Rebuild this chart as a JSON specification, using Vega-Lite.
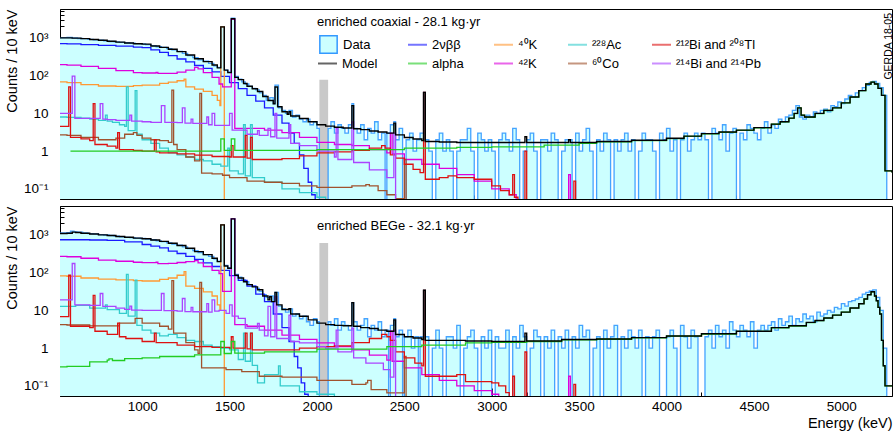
{
"$schema": "https://vega.github.io/schema/vega-lite/v6.json",
"padding": {"left": 3, "top": 8, "right": 3, "bottom": 2},
"config": {"font": "Liberation Sans", "view": {"stroke": "black", "strokeWidth": 1},
 "axis": {"domainColor": "black", "tickColor": "black", "labelColor": "black", "titleColor": "black", "grid": false, "zindex": 1, "titleFontWeight": "normal", "labelFontSize": 13.5, "titleFontSize": 14.5}},
"datasets": {
"coax": [
{"s":"M","e":530,"v":1000},{"s":"M","e":600,"v":980},{"s":"M","e":650,"v":950},{"s":"M","e":700,"v":900},{"s":"M","e":750,"v":860},{"s":"M","e":800,"v":810},{"s":"M","e":850,"v":770},{"s":"M","e":900,"v":730},{"s":"M","e":950,"v":700},{"s":"M","e":1000,"v":680},{"s":"M","e":1050,"v":610},{"s":"M","e":1100,"v":560},{"s":"M","e":1150,"v":500},{"s":"M","e":1200,"v":430},{"s":"M","e":1250,"v":350},{"s":"M","e":1300,"v":280},{"s":"M","e":1350,"v":235},{"s":"M","e":1400,"v":190},{"s":"M","e":1430,"v":160},{"s":"M","e":1450,"v":1950},{"s":"M","e":1470,"v":140},{"s":"M","e":1490,"v":120},{"s":"M","e":1510,"v":3200},{"s":"M","e":1530,"v":90},{"s":"M","e":1550,"v":78},{"s":"M","e":1580,"v":62},{"s":"M","e":1600,"v":52},{"s":"M","e":1630,"v":45},{"s":"M","e":1660,"v":38},{"s":"M","e":1690,"v":28},{"s":"M","e":1720,"v":22},{"s":"M","e":1750,"v":18},{"s":"M","e":1760,"v":50},{"s":"M","e":1775,"v":15},{"s":"M","e":1800,"v":11},{"s":"M","e":1830,"v":9.5},{"s":"M","e":1840,"v":11},{"s":"M","e":1850,"v":8.5},{"s":"M","e":1900,"v":7.3},{"s":"M","e":1950,"v":6.0},{"s":"M","e":2000,"v":5.0},{"s":"M","e":2050,"v":4.6},{"s":"M","e":2100,"v":4.3},{"s":"M","e":2150,"v":4.1},{"s":"M","e":2200,"v":16},{"s":"M","e":2210,"v":3.9},{"s":"M","e":2250,"v":3.7},{"s":"M","e":2300,"v":3.4},{"s":"M","e":2350,"v":3.2},{"s":"M","e":2400,"v":3.0},{"s":"M","e":2440,"v":5.5},{"s":"M","e":2450,"v":2.7},{"s":"M","e":2500,"v":2.3},{"s":"M","e":2550,"v":2.1},{"s":"M","e":2600,"v":1.9},{"s":"M","e":2610,"v":36},{"s":"M","e":2620,"v":1.8},{"s":"M","e":2700,"v":1.75},{"s":"M","e":2800,"v":1.7},{"s":"M","e":3190,"v":2.4},{"s":"M","e":3200,"v":1.7},{"s":"M","e":3440,"v":2.0},{"s":"M","e":3450,"v":1.7},{"s":"M","e":3600,"v":1.8},{"s":"M","e":3800,"v":1.95},{"s":"M","e":4000,"v":2.2},{"s":"M","e":4100,"v":2.5},{"s":"M","e":4200,"v":2.9},{"s":"M","e":4300,"v":3.2},{"s":"M","e":4400,"v":3.6},{"s":"M","e":4500,"v":4.2},{"s":"M","e":4600,"v":5.2},{"s":"M","e":4650,"v":6},{"s":"M","e":4700,"v":7.5},{"s":"M","e":4730,"v":10},{"s":"M","e":4750,"v":14},{"s":"M","e":4770,"v":9},{"s":"M","e":4790,"v":8},{"s":"M","e":4850,"v":10},{"s":"M","e":4900,"v":12},{"s":"M","e":4950,"v":14},{"s":"M","e":5000,"v":19},{"s":"M","e":5050,"v":27},{"s":"M","e":5100,"v":40},{"s":"M","e":5140,"v":60},{"s":"M","e":5170,"v":67},{"s":"M","e":5190,"v":60},{"s":"M","e":5210,"v":46},{"s":"M","e":5230,"v":30},{"s":"M","e":5250,"v":0.3},{"s":"M","e":5290,"v":0.27},
{"s":"D","e":530,"v":1010},{"s":"D","e":570,"v":1020},{"s":"D","e":600,"v":990},{"s":"D","e":630,"v":960},{"s":"D","e":660,"v":950},{"s":"D","e":690,"v":910},{"s":"D","e":720,"v":880},{"s":"D","e":750,"v":870},{"s":"D","e":780,"v":830},{"s":"D","e":810,"v":800},{"s":"D","e":840,"v":780},{"s":"D","e":870,"v":760},{"s":"D","e":900,"v":740},{"s":"D","e":930,"v":720},{"s":"D","e":960,"v":700},{"s":"D","e":990,"v":690},{"s":"D","e":1020,"v":660},{"s":"D","e":1050,"v":620},{"s":"D","e":1080,"v":580},{"s":"D","e":1110,"v":560},{"s":"D","e":1140,"v":520},{"s":"D","e":1170,"v":480},{"s":"D","e":1200,"v":440},{"s":"D","e":1230,"v":390},{"s":"D","e":1260,"v":340},{"s":"D","e":1290,"v":300},{"s":"D","e":1320,"v":260},{"s":"D","e":1350,"v":240},{"s":"D","e":1380,"v":210},{"s":"D","e":1410,"v":180},{"s":"D","e":1430,"v":165},{"s":"D","e":1450,"v":1950},{"s":"D","e":1470,"v":140},{"s":"D","e":1490,"v":125},{"s":"D","e":1510,"v":3300},{"s":"D","e":1530,"v":95},{"s":"D","e":1550,"v":80},{"s":"D","e":1570,"v":68},{"s":"D","e":1590,"v":60},{"s":"D","e":1610,"v":52},{"s":"D","e":1630,"v":46},{"s":"D","e":1650,"v":42},{"s":"D","e":1670,"v":35},{"s":"D","e":1690,"v":30},{"s":"D","e":1710,"v":22},{"s":"D","e":1730,"v":26},{"s":"D","e":1750,"v":18},{"s":"D","e":1760,"v":56},{"s":"D","e":1780,"v":14},{"s":"D","e":1800,"v":12},{"s":"D","e":1820,"v":10},{"s":"D","e":1840,"v":12},{"s":"D","e":1860,"v":8},{"s":"D","e":1880,"v":9},{"s":"D","e":1900,"v":7},{"s":"D","e":1920,"v":6},{"s":"D","e":1940,"v":7},{"s":"D","e":1960,"v":5},{"s":"D","e":1980,"v":6},{"s":"D","e":2000,"v":4},{"s":"D","e":2014,"v":0.001},{"s":"D","e":2064,"v":4},{"s":"D","e":2080,"v":6},{"s":"D","e":2100,"v":3},{"s":"D","e":2120,"v":5},{"s":"D","e":2140,"v":4},{"s":"D","e":2160,"v":3},{"s":"D","e":2180,"v":5},{"s":"D","e":2200,"v":18},{"s":"D","e":2210,"v":4},{"s":"D","e":2230,"v":3},{"s":"D","e":2250,"v":5},{"s":"D","e":2270,"v":2},{"s":"D","e":2290,"v":4},{"s":"D","e":2310,"v":3},{"s":"D","e":2330,"v":6},{"s":"D","e":2350,"v":2},{"s":"D","e":2370,"v":3},{"s":"D","e":2390,"v":0.001},{"s":"D","e":2400,"v":3},{"s":"D","e":2420,"v":5},{"s":"D","e":2440,"v":6},{"s":"D","e":2450,"v":2},{"s":"D","e":2470,"v":4},{"s":"D","e":2490,"v":0.001},{"s":"D","e":2510,"v":2},{"s":"D","e":2530,"v":3},{"s":"D","e":2550,"v":1},{"s":"D","e":2570,"v":2},{"s":"D","e":2590,"v":3},{"s":"D","e":2610,"v":36},
{"s":"D","e":2620,"v":2},{"s":"D","e":2640,"v":1},{"s":"D","e":2660,"v":0.001},{"s":"D","e":2680,"v":2},{"s":"D","e":2700,"v":3},{"s":"D","e":2720,"v":1},{"s":"D","e":2740,"v":2},{"s":"D","e":2760,"v":1},{"s":"D","e":2780,"v":0.001},{"s":"D","e":2800,"v":1},{"s":"D","e":2820,"v":2},{"s":"D","e":2840,"v":2},{"s":"D","e":2860,"v":4},{"s":"D","e":2880,"v":1},{"s":"D","e":2900,"v":0.001},{"s":"D","e":2920,"v":3},{"s":"D","e":2940,"v":2},{"s":"D","e":2960,"v":1},{"s":"D","e":2980,"v":2},
{"s":"D","e":3000,"v":1},{"s":"D","e":3020,"v":0.001},{"s":"D","e":3040,"v":2},{"s":"D","e":3060,"v":3},{"s":"D","e":3080,"v":2},{"s":"D","e":3100,"v":1},{"s":"D","e":3120,"v":4},{"s":"D","e":3140,"v":2},{"s":"D","e":3160,"v":0.001},{"s":"D","e":3180,"v":1},{"s":"D","e":3200,"v":2},{"s":"D","e":3220,"v":3},{"s":"D","e":3240,"v":1},{"s":"D","e":3260,"v":0.001},{"s":"D","e":3280,"v":2},{"s":"D","e":3300,"v":2},{"s":"D","e":3320,"v":1},{"s":"D","e":3340,"v":3},{"s":"D","e":3360,"v":2},{"s":"D","e":3380,"v":0.001},
{"s":"D","e":3400,"v":1},{"s":"D","e":3420,"v":2},{"s":"D","e":3440,"v":2},{"s":"D","e":3460,"v":0.001},{"s":"D","e":3480,"v":3},{"s":"D","e":3500,"v":1},{"s":"D","e":3520,"v":2},{"s":"D","e":3540,"v":4},{"s":"D","e":3560,"v":1},{"s":"D","e":3580,"v":0.001},{"s":"D","e":3600,"v":2},{"s":"D","e":3620,"v":1},{"s":"D","e":3640,"v":3},{"s":"D","e":3660,"v":2},{"s":"D","e":3680,"v":0.001},{"s":"D","e":3700,"v":2},{"s":"D","e":3720,"v":1},{"s":"D","e":3740,"v":2},{"s":"D","e":3760,"v":3},{"s":"D","e":3780,"v":1},
{"s":"D","e":3800,"v":2},{"s":"D","e":3820,"v":0.001},{"s":"D","e":3840,"v":1},{"s":"D","e":3860,"v":3},{"s":"D","e":3880,"v":2},{"s":"D","e":3900,"v":2},{"s":"D","e":3920,"v":1},{"s":"D","e":3940,"v":0.001},{"s":"D","e":3960,"v":3},{"s":"D","e":3980,"v":2},{"s":"D","e":4000,"v":4},{"s":"D","e":4020,"v":1},{"s":"D","e":4040,"v":2},{"s":"D","e":4060,"v":0.001},{"s":"D","e":4080,"v":2},{"s":"D","e":4100,"v":3},{"s":"D","e":4120,"v":1},{"s":"D","e":4140,"v":2},{"s":"D","e":4160,"v":3},{"s":"D","e":4180,"v":2},
{"s":"D","e":4200,"v":3},{"s":"D","e":4220,"v":2},{"s":"D","e":4240,"v":0.001},{"s":"D","e":4260,"v":4},{"s":"D","e":4280,"v":3},{"s":"D","e":4300,"v":2},{"s":"D","e":4320,"v":5},{"s":"D","e":4340,"v":1},{"s":"D","e":4360,"v":3},{"s":"D","e":4380,"v":4},{"s":"D","e":4400,"v":0.001},{"s":"D","e":4420,"v":3},{"s":"D","e":4440,"v":2},{"s":"D","e":4460,"v":5},{"s":"D","e":4480,"v":4},{"s":"D","e":4500,"v":3},{"s":"D","e":4520,"v":2},{"s":"D","e":4540,"v":4},{"s":"D","e":4560,"v":6},{"s":"D","e":4580,"v":3},
{"s":"D","e":4600,"v":5},{"s":"D","e":4620,"v":4},{"s":"D","e":4640,"v":7},{"s":"D","e":4660,"v":6},{"s":"D","e":4680,"v":8},{"s":"D","e":4700,"v":9},{"s":"D","e":4720,"v":12},{"s":"D","e":4740,"v":16},{"s":"D","e":4760,"v":8},{"s":"D","e":4780,"v":7},{"s":"D","e":4800,"v":9},{"s":"D","e":4820,"v":8},{"s":"D","e":4840,"v":11},{"s":"D","e":4860,"v":10},{"s":"D","e":4880,"v":12},
{"s":"D","e":4900,"v":13},{"s":"D","e":4920,"v":11},{"s":"D","e":4940,"v":16},{"s":"D","e":4960,"v":15},{"s":"D","e":4980,"v":20},{"s":"D","e":5000,"v":18},{"s":"D","e":5020,"v":24},{"s":"D","e":5040,"v":30},{"s":"D","e":5060,"v":27},{"s":"D","e":5080,"v":35},
{"s":"D","e":5100,"v":40},{"s":"D","e":5120,"v":48},{"s":"D","e":5140,"v":55},{"s":"D","e":5160,"v":66},{"s":"D","e":5180,"v":70},{"s":"D","e":5200,"v":62},{"s":"D","e":5220,"v":48},{"s":"D","e":5240,"v":30},{"s":"D","e":5260,"v":0.001},{"s":"D","e":5290,"v":0.001},
{"s":"B","e":530,"v":700},{"s":"B","e":570,"v":690},{"s":"B","e":650,"v":660},{"s":"B","e":750,"v":630},{"s":"B","e":850,"v":600},{"s":"B","e":950,"v":570},{"s":"B","e":1000,"v":550},{"s":"B","e":1050,"v":480},{"s":"B","e":1100,"v":410},{"s":"B","e":1150,"v":340},{"s":"B","e":1200,"v":275},{"s":"B","e":1250,"v":230},{"s":"B","e":1300,"v":185},{"s":"B","e":1350,"v":155},{"s":"B","e":1400,"v":125},{"s":"B","e":1450,"v":95},{"s":"B","e":1500,"v":65},{"s":"B","e":1550,"v":45},{"s":"B","e":1600,"v":30},{"s":"B","e":1650,"v":21},{"s":"B","e":1700,"v":14},{"s":"B","e":1750,"v":9},{"s":"B","e":1800,"v":5.5},{"s":"B","e":1840,"v":3},{"s":"B","e":1870,"v":1.6},{"s":"B","e":1900,"v":0.8},{"s":"B","e":1925,"v":0.35},{"s":"B","e":1950,"v":0.15},{"s":"B","e":1970,"v":0.07},{"s":"B","e":1990,"v":0.001},{"s":"B","e":5290,"v":0.001},
{"s":"K0","e":530,"v":68},{"s":"K0","e":570,"v":65},{"s":"K0","e":650,"v":58},{"s":"K0","e":750,"v":53},{"s":"K0","e":850,"v":52},{"s":"K0","e":950,"v":54},{"s":"K0","e":1000,"v":56},{"s":"K0","e":1100,"v":62},{"s":"K0","e":1150,"v":67},{"s":"K0","e":1200,"v":73},{"s":"K0","e":1240,"v":80},{"s":"K0","e":1250,"v":50},{"s":"K0","e":1300,"v":44},{"s":"K0","e":1350,"v":38},{"s":"K0","e":1400,"v":30},{"s":"K0","e":1430,"v":22},{"s":"K0","e":1445,"v":16},{"s":"K0","e":1450,"v":1950},{"s":"K0","e":1470,"v":0.001},{"s":"K0","e":5290,"v":0.001},
{"s":"K2","e":530,"v":195},{"s":"K2","e":570,"v":190},{"s":"K2","e":650,"v":175},{"s":"K2","e":750,"v":155},{"s":"K2","e":850,"v":135},{"s":"K2","e":950,"v":120},{"s":"K2","e":1000,"v":117},{"s":"K2","e":1080,"v":121},{"s":"K2","e":1090,"v":114},{"s":"K2","e":1150,"v":115},{"s":"K2","e":1200,"v":124},{"s":"K2","e":1250,"v":140},{"s":"K2","e":1300,"v":165},{"s":"K2","e":1320,"v":150},{"s":"K2","e":1350,"v":120},{"s":"K2","e":1400,"v":90},{"s":"K2","e":1440,"v":60},{"s":"K2","e":1460,"v":50},{"s":"K2","e":1510,"v":3100},{"s":"K2","e":1530,"v":4.0},{"s":"K2","e":1600,"v":4.0},{"s":"K2","e":1700,"v":3.6},{"s":"K2","e":1800,"v":3.1},{"s":"K2","e":1900,"v":2.3},{"s":"K2","e":2000,"v":1.7},{"s":"K2","e":2100,"v":1.5},{"s":"K2","e":2200,"v":1.4},{"s":"K2","e":2300,"v":1.1},{"s":"K2","e":2400,"v":0.9},{"s":"K2","e":2420,"v":3},{"s":"K2","e":2430,"v":0.85},{"s":"K2","e":2500,"v":0.6},{"s":"K2","e":2600,"v":0.45},{"s":"K2","e":2700,"v":0.35},{"s":"K2","e":2800,"v":0.24},{"s":"K2","e":2900,"v":0.16},{"s":"K2","e":3000,"v":0.1},{"s":"K2","e":3100,"v":0.07},{"s":"K2","e":3140,"v":0.001},{"s":"K2","e":3440,"v":0.24},{"s":"K2","e":3450,"v":0.001},{"s":"K2","e":5290,"v":0.001},
{"s":"A","e":530,"v":8},{"s":"A","e":570,"v":7.8},{"s":"A","e":650,"v":7.5},{"s":"A","e":700,"v":7},{"s":"A","e":750,"v":6.5},{"s":"A","e":790,"v":9},{"s":"A","e":800,"v":6.2},{"s":"A","e":830,"v":5.8},{"s":"A","e":870,"v":5},{"s":"A","e":900,"v":4.5},{"s":"A","e":910,"v":50},{"s":"A","e":920,"v":3.5},{"s":"A","e":960,"v":40},{"s":"A","e":970,"v":2.8},{"s":"A","e":1000,"v":2.0},{"s":"A","e":1050,"v":1.6},{"s":"A","e":1100,"v":1.2},{"s":"A","e":1150,"v":0.9},{"s":"A","e":1200,"v":0.8},{"s":"A","e":1250,"v":0.7},{"s":"A","e":1300,"v":0.6},{"s":"A","e":1350,"v":0.55},{"s":"A","e":1400,"v":0.45},{"s":"A","e":1450,"v":0.4},{"s":"A","e":1490,"v":1.2},{"s":"A","e":1500,"v":0.3},{"s":"A","e":1550,"v":0.25},{"s":"A","e":1580,"v":5},{"s":"A","e":1590,"v":0.22},{"s":"A","e":1620,"v":5},{"s":"A","e":1630,"v":0.2},{"s":"A","e":1700,"v":0.15},{"s":"A","e":1800,"v":0.1},{"s":"A","e":1900,"v":0.08},{"s":"A","e":2000,"v":0.06},{"s":"A","e":2050,"v":0.001},{"s":"A","e":5290,"v":0.001},
{"s":"C","e":530,"v":2.7},{"s":"C","e":570,"v":2.6},{"s":"C","e":650,"v":2.3},{"s":"C","e":750,"v":2.0},{"s":"C","e":850,"v":2.2},{"s":"C","e":900,"v":2.8},{"s":"C","e":950,"v":3.1},{"s":"C","e":970,"v":2.6},{"s":"C","e":1000,"v":2.2},{"s":"C","e":1050,"v":2.0},{"s":"C","e":1100,"v":1.9},{"s":"C","e":1150,"v":1.7},{"s":"C","e":1170,"v":41},{"s":"C","e":1180,"v":1.5},{"s":"C","e":1200,"v":1.1},{"s":"C","e":1250,"v":0.7},{"s":"C","e":1300,"v":0.55},{"s":"C","e":1330,"v":34},{"s":"C","e":1340,"v":0.26},{"s":"C","e":1400,"v":0.25},{"s":"C","e":1460,"v":0.23},{"s":"C","e":1500,"v":0.2},{"s":"C","e":1600,"v":0.16},{"s":"C","e":1700,"v":0.15},{"s":"C","e":1800,"v":0.14},{"s":"C","e":1900,"v":0.12},{"s":"C","e":2000,"v":0.11},{"s":"C","e":2200,"v":0.12},{"s":"C","e":2280,"v":0.13},{"s":"C","e":2300,"v":0.12},{"s":"C","e":2350,"v":0.09},{"s":"C","e":2400,"v":0.07},{"s":"C","e":2450,"v":0.055},{"s":"C","e":2500,"v":0.6},{"s":"C","e":2510,"v":0.001},{"s":"C","e":5290,"v":0.001},
{"s":"R","e":530,"v":4.5},{"s":"R","e":580,"v":50},{"s":"R","e":590,"v":2.3},{"s":"R","e":650,"v":2.1},{"s":"R","e":700,"v":1.9},{"s":"R","e":720,"v":18},{"s":"R","e":730,"v":1.5},{"s":"R","e":800,"v":1.35},{"s":"R","e":850,"v":1.2},{"s":"R","e":860,"v":3.1},{"s":"R","e":870,"v":1.1},{"s":"R","e":950,"v":1.05},{"s":"R","e":1000,"v":1.0},{"s":"R","e":1070,"v":2.0},{"s":"R","e":1080,"v":0.95},{"s":"R","e":1100,"v":0.9},{"s":"R","e":1200,"v":0.85},{"s":"R","e":1300,"v":0.78},{"s":"R","e":1400,"v":0.72},{"s":"R","e":1500,"v":0.7},{"s":"R","e":1510,"v":1.4},{"s":"R","e":1520,"v":0.7},{"s":"R","e":1590,"v":2.6},{"s":"R","e":1600,"v":0.65},{"s":"R","e":1620,"v":2.3},{"s":"R","e":1630,"v":0.6},{"s":"R","e":1700,"v":0.6},{"s":"R","e":1800,"v":0.63},{"s":"R","e":1900,"v":0.75},{"s":"R","e":2000,"v":0.9},{"s":"R","e":2100,"v":0.95},{"s":"R","e":2200,"v":1.05},{"s":"R","e":2300,"v":1.2},{"s":"R","e":2370,"v":1.4},{"s":"R","e":2390,"v":1.2},{"s":"R","e":2420,"v":0.8},{"s":"R","e":2450,"v":0.65},{"s":"R","e":2500,"v":0.45},{"s":"R","e":2550,"v":0.33},{"s":"R","e":2590,"v":0.27},{"s":"R","e":2610,"v":36},{"s":"R","e":2620,"v":0.18},{"s":"R","e":2700,"v":0.2},{"s":"R","e":2750,"v":0.22},{"s":"R","e":2800,"v":0.2},{"s":"R","e":2900,"v":0.18},{"s":"R","e":3000,"v":0.12},{"s":"R","e":3050,"v":0.09},{"s":"R","e":3100,"v":0.07},{"s":"R","e":3120,"v":0.24},{"s":"R","e":3130,"v":0.06},{"s":"R","e":3150,"v":0.001},{"s":"R","e":3190,"v":1.0},{"s":"R","e":3200,"v":0.001},{"s":"R","e":3470,"v":0.16},{"s":"R","e":3480,"v":0.001},{"s":"R","e":5290,"v":0.001},
{"s":"P","e":530,"v":10},{"s":"P","e":600,"v":97},{"s":"P","e":615,"v":7.4},{"s":"P","e":700,"v":7.4},{"s":"P","e":760,"v":18},{"s":"P","e":775,"v":7},{"s":"P","e":800,"v":6.8},{"s":"P","e":850,"v":6.5},{"s":"P","e":930,"v":9},{"s":"P","e":940,"v":6.2},{"s":"P","e":1000,"v":6.0},{"s":"P","e":1050,"v":5.8},{"s":"P","e":1110,"v":16},{"s":"P","e":1130,"v":5.8},{"s":"P","e":1200,"v":5.7},{"s":"P","e":1230,"v":14},{"s":"P","e":1245,"v":5.5},{"s":"P","e":1280,"v":7},{"s":"P","e":1290,"v":5.4},{"s":"P","e":1370,"v":8},{"s":"P","e":1380,"v":5},{"s":"P","e":1400,"v":10},{"s":"P","e":1415,"v":4.8},{"s":"P","e":1500,"v":10},{"s":"P","e":1515,"v":3.6},{"s":"P","e":1600,"v":2.8},{"s":"P","e":1660,"v":3.5},{"s":"P","e":1670,"v":2.6},{"s":"P","e":1720,"v":4},{"s":"P","e":1735,"v":2.4},{"s":"P","e":1760,"v":10},{"s":"P","e":1770,"v":2.2},{"s":"P","e":1840,"v":5},{"s":"P","e":1850,"v":1.6},{"s":"P","e":1900,"v":1.4},{"s":"P","e":2000,"v":1.0},{"s":"P","e":2100,"v":0.7},{"s":"P","e":2110,"v":4},{"s":"P","e":2120,"v":0.6},{"s":"P","e":2200,"v":5.9},{"s":"P","e":2210,"v":0.5},{"s":"P","e":2300,"v":0.32},{"s":"P","e":2400,"v":0.2},{"s":"P","e":2440,"v":3},{"s":"P","e":2450,"v":0.001},{"s":"P","e":5290,"v":0.001},
{"s":"G","e":590,"v":1.0},{"s":"G","e":1450,"v":2.1},{"s":"G","e":1470,"v":1.05},{"s":"G","e":1510,"v":2.1},{"s":"G","e":1530,"v":1.05},{"s":"G","e":2000,"v":1.1},{"s":"G","e":2500,"v":1.2},{"s":"G","e":2800,"v":1.25},{"s":"G","e":3000,"v":1.3},{"s":"G","e":3300,"v":1.45},{"s":"G","e":3500,"v":1.6},{"s":"G","e":3600,"v":1.75},{"s":"G","e":3800,"v":1.9},{"s":"G","e":4000,"v":2.15},{"s":"G","e":4100,"v":2.45},{"s":"G","e":4200,"v":2.85},{"s":"G","e":4300,"v":3.15},{"s":"G","e":4400,"v":3.55},{"s":"G","e":4500,"v":4.15},{"s":"G","e":4600,"v":5.15},{"s":"G","e":4650,"v":5.95},{"s":"G","e":4700,"v":7.4},{"s":"G","e":4730,"v":9.9},{"s":"G","e":4750,"v":13.9},{"s":"G","e":4770,"v":8.9},{"s":"G","e":4790,"v":7.9},{"s":"G","e":4850,"v":9.9},{"s":"G","e":4900,"v":11.9},{"s":"G","e":4950,"v":13.9},{"s":"G","e":5000,"v":18.9},{"s":"G","e":5050,"v":27},{"s":"G","e":5100,"v":40},{"s":"G","e":5140,"v":60},{"s":"G","e":5170,"v":67},{"s":"G","e":5190,"v":60},{"s":"G","e":5210,"v":46},{"s":"G","e":5230,"v":30},{"s":"G","e":5250,"v":0.3},{"s":"G","e":5290,"v":0.27}
],
"bege": [
{"s":"M","e":530,"v":1080},{"s":"M","e":570,"v":1100},{"s":"M","e":600,"v":1180},{"s":"M","e":620,"v":1150},{"s":"M","e":650,"v":1100},{"s":"M","e":700,"v":1050},{"s":"M","e":750,"v":1000},{"s":"M","e":800,"v":960},{"s":"M","e":850,"v":900},{"s":"M","e":900,"v":860},{"s":"M","e":950,"v":820},{"s":"M","e":1000,"v":790},{"s":"M","e":1050,"v":730},{"s":"M","e":1100,"v":670},{"s":"M","e":1150,"v":600},{"s":"M","e":1200,"v":520},{"s":"M","e":1250,"v":440},{"s":"M","e":1300,"v":360},{"s":"M","e":1350,"v":300},{"s":"M","e":1400,"v":240},{"s":"M","e":1430,"v":195},{"s":"M","e":1450,"v":1830},{"s":"M","e":1470,"v":150},{"s":"M","e":1490,"v":130},{"s":"M","e":1510,"v":2650},{"s":"M","e":1530,"v":85},{"s":"M","e":1550,"v":72},{"s":"M","e":1580,"v":57},{"s":"M","e":1600,"v":48},{"s":"M","e":1630,"v":42},{"s":"M","e":1660,"v":35},{"s":"M","e":1690,"v":24},{"s":"M","e":1720,"v":19},{"s":"M","e":1730,"v":23},{"s":"M","e":1740,"v":17},{"s":"M","e":1760,"v":30},{"s":"M","e":1770,"v":14},{"s":"M","e":1800,"v":10.5},{"s":"M","e":1840,"v":11},{"s":"M","e":1850,"v":8},{"s":"M","e":1900,"v":7},{"s":"M","e":1950,"v":5.6},{"s":"M","e":2000,"v":4.6},{"s":"M","e":2050,"v":4.2},{"s":"M","e":2100,"v":4.0},{"s":"M","e":2150,"v":3.9},{"s":"M","e":2200,"v":16},{"s":"M","e":2210,"v":3.8},{"s":"M","e":2250,"v":3.5},{"s":"M","e":2300,"v":3.3},{"s":"M","e":2350,"v":3.0},{"s":"M","e":2400,"v":2.8},{"s":"M","e":2440,"v":5.6},{"s":"M","e":2450,"v":2.3},{"s":"M","e":2500,"v":2.0},{"s":"M","e":2550,"v":1.85},{"s":"M","e":2600,"v":1.7},{"s":"M","e":2610,"v":34},{"s":"M","e":2620,"v":1.6},{"s":"M","e":2850,"v":1.55},{"s":"M","e":3000,"v":1.5},{"s":"M","e":3190,"v":2.5},{"s":"M","e":3200,"v":1.55},{"s":"M","e":3400,"v":1.7},{"s":"M","e":3600,"v":1.75},{"s":"M","e":3800,"v":1.9},{"s":"M","e":4000,"v":2.1},{"s":"M","e":4200,"v":2.4},{"s":"M","e":4400,"v":2.8},{"s":"M","e":4600,"v":3.5},{"s":"M","e":4700,"v":3.9},{"s":"M","e":4800,"v":4.8},{"s":"M","e":4850,"v":5.4},{"s":"M","e":4900,"v":6.3},{"s":"M","e":4950,"v":7.5},{"s":"M","e":5000,"v":9},{"s":"M","e":5050,"v":11.5},{"s":"M","e":5100,"v":15},{"s":"M","e":5130,"v":20},{"s":"M","e":5150,"v":26},{"s":"M","e":5170,"v":31},{"s":"M","e":5190,"v":24},{"s":"M","e":5200,"v":18},{"s":"M","e":5210,"v":12},{"s":"M","e":5220,"v":8},{"s":"M","e":5230,"v":1.6},{"s":"M","e":5240,"v":0.34},{"s":"M","e":5250,"v":0.1},{"s":"M","e":5290,"v":0.1},
{"s":"D","e":530,"v":1120},{"s":"D","e":570,"v":1150},{"s":"D","e":590,"v":1250},{"s":"D","e":610,"v":1200},{"s":"D","e":630,"v":1180},{"s":"D","e":660,"v":1120},{"s":"D","e":690,"v":1080},{"s":"D","e":720,"v":1060},{"s":"D","e":750,"v":1010},{"s":"D","e":780,"v":990},{"s":"D","e":810,"v":960},{"s":"D","e":840,"v":920},{"s":"D","e":870,"v":890},{"s":"D","e":900,"v":860},{"s":"D","e":930,"v":840},{"s":"D","e":960,"v":820},{"s":"D","e":990,"v":800},{"s":"D","e":1020,"v":770},{"s":"D","e":1050,"v":740},{"s":"D","e":1080,"v":690},{"s":"D","e":1110,"v":660},{"s":"D","e":1140,"v":610},{"s":"D","e":1170,"v":570},{"s":"D","e":1200,"v":530},{"s":"D","e":1230,"v":480},{"s":"D","e":1260,"v":430},{"s":"D","e":1290,"v":380},{"s":"D","e":1320,"v":340},{"s":"D","e":1350,"v":300},{"s":"D","e":1380,"v":270},{"s":"D","e":1410,"v":230},{"s":"D","e":1430,"v":200},{"s":"D","e":1450,"v":1830},{"s":"D","e":1470,"v":155},{"s":"D","e":1490,"v":135},{"s":"D","e":1510,"v":2700},{"s":"D","e":1530,"v":90},{"s":"D","e":1550,"v":76},{"s":"D","e":1570,"v":64},{"s":"D","e":1590,"v":58},{"s":"D","e":1610,"v":48},{"s":"D","e":1630,"v":44},{"s":"D","e":1650,"v":38},{"s":"D","e":1670,"v":32},{"s":"D","e":1690,"v":26},{"s":"D","e":1710,"v":22},{"s":"D","e":1730,"v":24},{"s":"D","e":1750,"v":17},{"s":"D","e":1760,"v":30},{"s":"D","e":1780,"v":13},{"s":"D","e":1800,"v":11},{"s":"D","e":1820,"v":9},{"s":"D","e":1840,"v":11},{"s":"D","e":1860,"v":7},{"s":"D","e":1880,"v":8},{"s":"D","e":1900,"v":6},{"s":"D","e":1920,"v":7},{"s":"D","e":1940,"v":5},{"s":"D","e":1960,"v":4},{"s":"D","e":1980,"v":6},{"s":"D","e":2000,"v":5},{"s":"D","e":2014,"v":0.001},{"s":"D","e":2064,"v":5},{"s":"D","e":2080,"v":4},{"s":"D","e":2100,"v":6},{"s":"D","e":2120,"v":3},{"s":"D","e":2140,"v":5},{"s":"D","e":2160,"v":4},{"s":"D","e":2180,"v":3},{"s":"D","e":2200,"v":16},{"s":"D","e":2210,"v":5},{"s":"D","e":2230,"v":3},{"s":"D","e":2250,"v":4},{"s":"D","e":2270,"v":6},{"s":"D","e":2290,"v":2},{"s":"D","e":2310,"v":4},{"s":"D","e":2330,"v":3},{"s":"D","e":2350,"v":5},{"s":"D","e":2370,"v":2},{"s":"D","e":2390,"v":3},{"s":"D","e":2410,"v":0.001},{"s":"D","e":2420,"v":4},{"s":"D","e":2440,"v":6},{"s":"D","e":2450,"v":2},{"s":"D","e":2470,"v":3},{"s":"D","e":2490,"v":0.001},{"s":"D","e":2500,"v":2},{"s":"D","e":2520,"v":3},{"s":"D","e":2540,"v":1},{"s":"D","e":2560,"v":2},{"s":"D","e":2580,"v":0.001},{"s":"D","e":2590,"v":2},{"s":"D","e":2610,"v":34},
{"s":"D","e":2620,"v":2},{"s":"D","e":2640,"v":0.001},{"s":"D","e":2660,"v":1},{"s":"D","e":2680,"v":3},{"s":"D","e":2700,"v":1},{"s":"D","e":2720,"v":0.001},{"s":"D","e":2740,"v":2},{"s":"D","e":2760,"v":2},{"s":"D","e":2780,"v":1},{"s":"D","e":2800,"v":4},{"s":"D","e":2820,"v":0.001},{"s":"D","e":2840,"v":1},{"s":"D","e":2860,"v":2},{"s":"D","e":2880,"v":3},{"s":"D","e":2900,"v":1},{"s":"D","e":2920,"v":0.001},{"s":"D","e":2940,"v":2},{"s":"D","e":2960,"v":1},{"s":"D","e":2980,"v":3},
{"s":"D","e":3000,"v":0.001},{"s":"D","e":3020,"v":2},{"s":"D","e":3040,"v":1},{"s":"D","e":3060,"v":1},{"s":"D","e":3080,"v":3},{"s":"D","e":3100,"v":0.001},{"s":"D","e":3120,"v":2},{"s":"D","e":3140,"v":1},{"s":"D","e":3160,"v":4},{"s":"D","e":3180,"v":2},{"s":"D","e":3200,"v":0.001},{"s":"D","e":3220,"v":1},{"s":"D","e":3240,"v":3},{"s":"D","e":3260,"v":2},{"s":"D","e":3280,"v":0.001},{"s":"D","e":3300,"v":2},{"s":"D","e":3320,"v":1},{"s":"D","e":3340,"v":3},{"s":"D","e":3360,"v":0.001},{"s":"D","e":3380,"v":2},
{"s":"D","e":3400,"v":1},{"s":"D","e":3420,"v":3},{"s":"D","e":3440,"v":0.001},{"s":"D","e":3460,"v":2},{"s":"D","e":3480,"v":1},{"s":"D","e":3500,"v":4},{"s":"D","e":3520,"v":2},{"s":"D","e":3540,"v":3},{"s":"D","e":3560,"v":0.001},{"s":"D","e":3580,"v":1},{"s":"D","e":3600,"v":2},{"s":"D","e":3620,"v":0.001},{"s":"D","e":3640,"v":3},{"s":"D","e":3660,"v":1},{"s":"D","e":3680,"v":2},{"s":"D","e":3700,"v":4},{"s":"D","e":3720,"v":0.001},{"s":"D","e":3740,"v":2},{"s":"D","e":3760,"v":1},{"s":"D","e":3780,"v":3},
{"s":"D","e":3800,"v":2},{"s":"D","e":3820,"v":1},{"s":"D","e":3840,"v":3},{"s":"D","e":3860,"v":0.001},{"s":"D","e":3880,"v":2},{"s":"D","e":3900,"v":1},{"s":"D","e":3920,"v":2},{"s":"D","e":3940,"v":3},{"s":"D","e":3960,"v":0.001},{"s":"D","e":3980,"v":0.001},{"s":"D","e":4000,"v":2},{"s":"D","e":4020,"v":3},{"s":"D","e":4040,"v":1},{"s":"D","e":4060,"v":0.001},{"s":"D","e":4080,"v":4},{"s":"D","e":4100,"v":2},{"s":"D","e":4120,"v":1},{"s":"D","e":4140,"v":3},{"s":"D","e":4160,"v":2},{"s":"D","e":4180,"v":0.001},
{"s":"D","e":4200,"v":0.001},{"s":"D","e":4220,"v":2},{"s":"D","e":4240,"v":3},{"s":"D","e":4260,"v":1},{"s":"D","e":4280,"v":4},{"s":"D","e":4300,"v":2},{"s":"D","e":4320,"v":3},{"s":"D","e":4340,"v":1},{"s":"D","e":4360,"v":5},{"s":"D","e":4380,"v":3},{"s":"D","e":4400,"v":2},{"s":"D","e":4420,"v":4},{"s":"D","e":4440,"v":3},{"s":"D","e":4460,"v":2},{"s":"D","e":4480,"v":5},{"s":"D","e":4500,"v":1},{"s":"D","e":4520,"v":3},{"s":"D","e":4540,"v":4},{"s":"D","e":4560,"v":3},{"s":"D","e":4580,"v":4},
{"s":"D","e":4600,"v":5},{"s":"D","e":4620,"v":3},{"s":"D","e":4640,"v":6},{"s":"D","e":4660,"v":4},{"s":"D","e":4680,"v":5},{"s":"D","e":4700,"v":7},{"s":"D","e":4720,"v":4},{"s":"D","e":4740,"v":6},{"s":"D","e":4760,"v":5},{"s":"D","e":4780,"v":8},{"s":"D","e":4800,"v":6},{"s":"D","e":4820,"v":7},{"s":"D","e":4840,"v":5},{"s":"D","e":4860,"v":9},{"s":"D","e":4880,"v":7},
{"s":"D","e":4900,"v":8},{"s":"D","e":4920,"v":10},{"s":"D","e":4940,"v":9},{"s":"D","e":4960,"v":12},{"s":"D","e":4980,"v":11},{"s":"D","e":5000,"v":15},{"s":"D","e":5020,"v":13},{"s":"D","e":5040,"v":17},{"s":"D","e":5060,"v":18},{"s":"D","e":5080,"v":20},
{"s":"D","e":5100,"v":22},{"s":"D","e":5120,"v":27},{"s":"D","e":5140,"v":30},{"s":"D","e":5160,"v":33},{"s":"D","e":5180,"v":35},{"s":"D","e":5200,"v":22},{"s":"D","e":5220,"v":10},{"s":"D","e":5240,"v":1},{"s":"D","e":5260,"v":0.001},{"s":"D","e":5290,"v":0.001},
{"s":"B","e":530,"v":740},{"s":"B","e":700,"v":730},{"s":"B","e":800,"v":710},{"s":"B","e":900,"v":650},{"s":"B","e":1000,"v":555},{"s":"B","e":1050,"v":500},{"s":"B","e":1100,"v":450},{"s":"B","e":1150,"v":370},{"s":"B","e":1200,"v":320},{"s":"B","e":1250,"v":270},{"s":"B","e":1300,"v":225},{"s":"B","e":1350,"v":180},{"s":"B","e":1400,"v":145},{"s":"B","e":1450,"v":115},{"s":"B","e":1500,"v":83},{"s":"B","e":1550,"v":62},{"s":"B","e":1600,"v":44},{"s":"B","e":1650,"v":27},{"s":"B","e":1700,"v":17},{"s":"B","e":1750,"v":8},{"s":"B","e":1800,"v":3.5},{"s":"B","e":1840,"v":1.5},{"s":"B","e":1870,"v":0.6},{"s":"B","e":1890,"v":0.3},{"s":"B","e":1910,"v":0.12},{"s":"B","e":1930,"v":0.06},{"s":"B","e":1950,"v":0.001},{"s":"B","e":5290,"v":0.001},
{"s":"K0","e":530,"v":82},{"s":"K0","e":570,"v":80},{"s":"K0","e":650,"v":72},{"s":"K0","e":750,"v":67},{"s":"K0","e":850,"v":64},{"s":"K0","e":950,"v":61},{"s":"K0","e":1000,"v":60},{"s":"K0","e":1100,"v":66},{"s":"K0","e":1150,"v":72},{"s":"K0","e":1200,"v":85},{"s":"K0","e":1240,"v":106},{"s":"K0","e":1250,"v":44},{"s":"K0","e":1300,"v":38},{"s":"K0","e":1350,"v":31},{"s":"K0","e":1400,"v":24},{"s":"K0","e":1430,"v":14},{"s":"K0","e":1445,"v":10.5},{"s":"K0","e":1450,"v":1830},{"s":"K0","e":1470,"v":0.001},{"s":"K0","e":5290,"v":0.001},
{"s":"K2","e":530,"v":270},{"s":"K2","e":570,"v":263},{"s":"K2","e":650,"v":240},{"s":"K2","e":750,"v":215},{"s":"K2","e":850,"v":200},{"s":"K2","e":950,"v":188},{"s":"K2","e":1000,"v":183},{"s":"K2","e":1080,"v":188},{"s":"K2","e":1090,"v":172},{"s":"K2","e":1150,"v":175},{"s":"K2","e":1200,"v":185},{"s":"K2","e":1250,"v":195},{"s":"K2","e":1300,"v":207},{"s":"K2","e":1320,"v":180},{"s":"K2","e":1350,"v":145},{"s":"K2","e":1400,"v":115},{"s":"K2","e":1440,"v":94},{"s":"K2","e":1460,"v":32},{"s":"K2","e":1510,"v":2650},{"s":"K2","e":1530,"v":4.2},{"s":"K2","e":1600,"v":3.8},{"s":"K2","e":1700,"v":3.0},{"s":"K2","e":1800,"v":2.2},{"s":"K2","e":1900,"v":1.7},{"s":"K2","e":2000,"v":1.37},{"s":"K2","e":2100,"v":1.1},{"s":"K2","e":2200,"v":0.9},{"s":"K2","e":2300,"v":0.65},{"s":"K2","e":2400,"v":0.48},{"s":"K2","e":2420,"v":2.8},{"s":"K2","e":2430,"v":0.45},{"s":"K2","e":2500,"v":0.3},{"s":"K2","e":2600,"v":0.2},{"s":"K2","e":2700,"v":0.14},{"s":"K2","e":2800,"v":0.1},{"s":"K2","e":2900,"v":0.075},{"s":"K2","e":3000,"v":0.06},{"s":"K2","e":3040,"v":0.001},{"s":"K2","e":3440,"v":0.18},{"s":"K2","e":3450,"v":0.001},{"s":"K2","e":5290,"v":0.001},
{"s":"A","e":530,"v":12.7},{"s":"A","e":620,"v":13.5},{"s":"A","e":700,"v":11.5},{"s":"A","e":790,"v":14},{"s":"A","e":800,"v":10.5},{"s":"A","e":870,"v":8.3},{"s":"A","e":910,"v":90},{"s":"A","e":920,"v":7},{"s":"A","e":960,"v":63},{"s":"A","e":970,"v":4},{"s":"A","e":1000,"v":3.0},{"s":"A","e":1050,"v":2.5},{"s":"A","e":1100,"v":2.1},{"s":"A","e":1150,"v":2.3},{"s":"A","e":1200,"v":1.9},{"s":"A","e":1250,"v":1.6},{"s":"A","e":1300,"v":1.5},{"s":"A","e":1350,"v":1.2},{"s":"A","e":1400,"v":1.1},{"s":"A","e":1450,"v":1.0},{"s":"A","e":1500,"v":0.9},{"s":"A","e":1550,"v":0.5},{"s":"A","e":1580,"v":2.5},{"s":"A","e":1590,"v":0.45},{"s":"A","e":1620,"v":2.5},{"s":"A","e":1630,"v":0.35},{"s":"A","e":1660,"v":0.12},{"s":"A","e":1700,"v":0.2},{"s":"A","e":1780,"v":0.34},{"s":"A","e":1790,"v":0.1},{"s":"A","e":1900,"v":0.07},{"s":"A","e":2000,"v":0.06},{"s":"A","e":2100,"v":0.001},{"s":"A","e":5290,"v":0.001},
{"s":"C","e":530,"v":4.2},{"s":"C","e":570,"v":4.1},{"s":"C","e":700,"v":3.9},{"s":"C","e":870,"v":4.6},{"s":"C","e":960,"v":6.1},{"s":"C","e":1000,"v":4.6},{"s":"C","e":1100,"v":3.8},{"s":"C","e":1150,"v":3.2},{"s":"C","e":1170,"v":61},{"s":"C","e":1180,"v":2.5},{"s":"C","e":1250,"v":1.4},{"s":"C","e":1300,"v":0.9},{"s":"C","e":1320,"v":0.73},{"s":"C","e":1330,"v":55},{"s":"C","e":1340,"v":0.3},{"s":"C","e":1480,"v":0.27},{"s":"C","e":1570,"v":0.24},{"s":"C","e":1670,"v":0.18},{"s":"C","e":1800,"v":0.17},{"s":"C","e":2000,"v":0.14},{"s":"C","e":2200,"v":0.11},{"s":"C","e":2280,"v":0.12},{"s":"C","e":2290,"v":0.14},{"s":"C","e":2310,"v":0.08},{"s":"C","e":2400,"v":0.065},{"s":"C","e":2500,"v":0.6},{"s":"C","e":2510,"v":0.001},{"s":"C","e":5290,"v":0.001},
{"s":"R","e":530,"v":6.8},{"s":"R","e":580,"v":85},{"s":"R","e":590,"v":3.8},{"s":"R","e":700,"v":3.5},{"s":"R","e":720,"v":25},{"s":"R","e":730,"v":2.8},{"s":"R","e":800,"v":2.3},{"s":"R","e":860,"v":4.6},{"s":"R","e":870,"v":2.0},{"s":"R","e":907,"v":1.8},{"s":"R","e":1000,"v":1.5},{"s":"R","e":1070,"v":2.5},{"s":"R","e":1080,"v":1.4},{"s":"R","e":1200,"v":1.2},{"s":"R","e":1300,"v":1.1},{"s":"R","e":1400,"v":1.05},{"s":"R","e":1500,"v":1.0},{"s":"R","e":1510,"v":2.0},{"s":"R","e":1520,"v":1.0},{"s":"R","e":1590,"v":2.5},{"s":"R","e":1600,"v":0.95},{"s":"R","e":1620,"v":2.5},{"s":"R","e":1630,"v":0.9},{"s":"R","e":1800,"v":0.9},{"s":"R","e":1900,"v":1.0},{"s":"R","e":2000,"v":1.1},{"s":"R","e":2100,"v":1.15},{"s":"R","e":2200,"v":1.4},{"s":"R","e":2300,"v":1.8},{"s":"R","e":2370,"v":2.3},{"s":"R","e":2400,"v":2.0},{"s":"R","e":2420,"v":1.6},{"s":"R","e":2450,"v":0.8},{"s":"R","e":2500,"v":0.55},{"s":"R","e":2560,"v":0.4},{"s":"R","e":2600,"v":0.34},{"s":"R","e":2610,"v":34},{"s":"R","e":2620,"v":0.18},{"s":"R","e":2800,"v":0.2},{"s":"R","e":2850,"v":0.13},{"s":"R","e":3000,"v":0.12},{"s":"R","e":3040,"v":0.1},{"s":"R","e":3080,"v":0.066},{"s":"R","e":3100,"v":0.001},{"s":"R","e":3120,"v":0.18},{"s":"R","e":3130,"v":0.001},{"s":"R","e":3190,"v":0.79},{"s":"R","e":3200,"v":0.001},{"s":"R","e":3470,"v":0.11},{"s":"R","e":3480,"v":0.001},{"s":"R","e":5290,"v":0.001},
{"s":"P","e":530,"v":19},{"s":"P","e":600,"v":174},{"s":"P","e":615,"v":14},{"s":"P","e":700,"v":13.5},{"s":"P","e":760,"v":28},{"s":"P","e":775,"v":12.7},{"s":"P","e":850,"v":11.5},{"s":"P","e":900,"v":10.6},{"s":"P","e":930,"v":13},{"s":"P","e":940,"v":10.2},{"s":"P","e":1000,"v":10},{"s":"P","e":1110,"v":28},{"s":"P","e":1125,"v":9.8},{"s":"P","e":1200,"v":9.5},{"s":"P","e":1230,"v":20.6},{"s":"P","e":1245,"v":9.3},{"s":"P","e":1280,"v":12},{"s":"P","e":1290,"v":9.2},{"s":"P","e":1370,"v":15},{"s":"P","e":1380,"v":9},{"s":"P","e":1400,"v":19},{"s":"P","e":1415,"v":9.5},{"s":"P","e":1440,"v":10},{"s":"P","e":1480,"v":8.3},{"s":"P","e":1500,"v":14},{"s":"P","e":1515,"v":7},{"s":"P","e":1550,"v":6.1},{"s":"P","e":1590,"v":3.4},{"s":"P","e":1660,"v":4.5},{"s":"P","e":1670,"v":3},{"s":"P","e":1700,"v":2.1},{"s":"P","e":1720,"v":12.7},{"s":"P","e":1735,"v":2.0},{"s":"P","e":1760,"v":23},{"s":"P","e":1770,"v":1.8},{"s":"P","e":1840,"v":7.5},{"s":"P","e":1850,"v":1.5},{"s":"P","e":1900,"v":1.37},{"s":"P","e":2000,"v":1.1},{"s":"P","e":2050,"v":1.0},{"s":"P","e":2110,"v":3},{"s":"P","e":2120,"v":0.8},{"s":"P","e":2200,"v":3.4},{"s":"P","e":2210,"v":0.55},{"s":"P","e":2280,"v":0.4},{"s":"P","e":2380,"v":0.27},{"s":"P","e":2420,"v":0.17},{"s":"P","e":2440,"v":3},{"s":"P","e":2450,"v":0.001},{"s":"P","e":5290,"v":0.001},
{"s":"G","e":530,"v":0.32},{"s":"G","e":570,"v":0.33},{"s":"G","e":700,"v":0.43},{"s":"G","e":800,"v":0.48},{"s":"G","e":810,"v":0.52},{"s":"G","e":830,"v":0.47},{"s":"G","e":900,"v":0.53},{"s":"G","e":1000,"v":0.55},{"s":"G","e":1100,"v":0.6},{"s":"G","e":1300,"v":0.66},{"s":"G","e":1450,"v":1.5},{"s":"G","e":1470,"v":0.72},{"s":"G","e":1510,"v":1.5},{"s":"G","e":1530,"v":0.74},{"s":"G","e":1700,"v":0.8},{"s":"G","e":2000,"v":0.94},{"s":"G","e":2400,"v":1.1},{"s":"G","e":2600,"v":1.2},{"s":"G","e":2850,"v":1.37},{"s":"G","e":3000,"v":1.42},{"s":"G","e":3200,"v":1.5},{"s":"G","e":3400,"v":1.65},{"s":"G","e":3600,"v":1.72},{"s":"G","e":3800,"v":1.87},{"s":"G","e":4000,"v":2.07},{"s":"G","e":4200,"v":2.37},{"s":"G","e":4400,"v":2.77},{"s":"G","e":4600,"v":3.45},{"s":"G","e":4700,"v":3.85},{"s":"G","e":4800,"v":4.75},{"s":"G","e":4850,"v":5.35},{"s":"G","e":4900,"v":6.25},{"s":"G","e":4950,"v":7.45},{"s":"G","e":5000,"v":8.95},{"s":"G","e":5050,"v":11.4},{"s":"G","e":5100,"v":15},{"s":"G","e":5130,"v":20},{"s":"G","e":5150,"v":26},{"s":"G","e":5170,"v":31},{"s":"G","e":5190,"v":24},{"s":"G","e":5200,"v":18},{"s":"G","e":5210,"v":12},{"s":"G","e":5220,"v":8},{"s":"G","e":5230,"v":1.6},{"s":"G","e":5240,"v":0.34},{"s":"G","e":5250,"v":0.1},{"s":"G","e":5290,"v":0.1}
]
},
"vconcat": [
{
 "width": 832, "height": 190,
 "title": {"text": "GERDA 18-05", "orient": "right", "anchor": "start", "frame": "group", "angle": 270, "align": "right", "baseline": "middle", "offset": -7, "dx": -4, "dy": -7, "fontSize": 10.5, "fontWeight": "normal", "color": "black", "font": "Liberation Sans"},
 "encoding": {
  "x": {"field": "e", "type": "quantitative", "scale": {"domain": [530, 5290], "nice": false, "zero": false},
   "axis": {"orient": "bottom", "labels": false, "title": null, "values": [600,700,800,900,1000,1100,1200,1300,1400,1500,1600,1700,1800,1900,2000,2100,2200,2300,2400,2500,2600,2700,2800,2900,3000,3100,3200,3300,3400,3500,3600,3700,3800,3900,4000,4100,4200,4300,4400,4500,4600,4700,4800,4900,5000,5100,5200],
    "tickSize": {"condition": {"test": "datum.value % 500 == 0", "value": -8}, "value": -4}}},
  "y": {"field": "v", "type": "quantitative", "scale": {"type": "log", "domain": [0.054, 5800], "nice": false},
   "axis": {"orient": "left", "title": "Counts / 10 keV", "titleAnchor": "end", "titlePadding": 4, "labelPadding": 20,
    "values": [0.06,0.07,0.08,0.09,0.1,0.2,0.3,0.4,0.5,0.6,0.7,0.8,0.9,1,2,3,4,5,6,7,8,9,10,20,30,40,50,60,70,80,90,100,200,300,400,500,600,700,800,900,1000,2000,3000,4000,5000],
    "labelExpr": "datum.value == 1000 ? '10³' : datum.value == 100 ? '10²' : datum.value == 10 ? '10' : datum.value == 1 ? '1' : (datum.value > 0.099 && datum.value < 0.101) ? '10⁻¹' : ''",
    "tickSize": {"condition": {"test": "datum.value == 0.1 || datum.value == 1 || datum.value == 10 || datum.value == 100 || datum.value == 1000", "value": -8}, "value": -4}}}
 },
 "layer": [
  {"data": {"name": "coax"}, "transform": [{"filter": "datum.s == 'D'"}],
   "mark": {"type": "area", "interpolate": "step-after", "clip": true, "fillOpacity": 1},
   "encoding": {
    "y2": {"datum": 0.001},
    "fill": {"datum": "Data", "type": "nominal", "scale": {"range": ["#ccffff"]},
     "legend": {"orient": "none", "legendX": 259, "legendY": 26, "title": null, "symbolType": "square", "symbolSize": 300,
      "symbolStrokeColor": "#3399ff", "symbolStrokeWidth": 1.5, "symbolOpacity": 1, "labelFontSize": 13, "labelColor": "black", "labelOffset": 5, "labelFont": "Liberation Sans"}}
   }},
  {"data": {"values": [{"e": 2014, "e2": 2064, "v": 78}]},
   "mark": {"type": "rect", "color": "#c9c9c9", "clip": true},
   "encoding": {"x2": {"field": "e2"}, "y2": {"datum": 0.001}}},
  {"data": {"name": "coax"}, "transform": [{"filter": "datum.s == 'D'"}],
   "mark": {"type": "line", "interpolate": "step-after", "strokeWidth": 1.3, "opacity": 0.9, "clip": true},
   "encoding": {
    "color": {"field": "s", "type": "nominal",
     "scale": {"domain": ["_","M","B","G","K0","K2","A","C","R","P","D"], "range": ["transparent","#000000","#1a1aff","#22cc22","#ff9933","#dd00dd","#33cccc","#a0522d","#dd1111","#aa44ff","#3399ff"]},
     "legend": {"orient": "none", "legendX": 257, "legendY": 7, "columns": 5, "title": "enriched coaxial - 28.1 kg·yr",
      "values": ["_","M","B","G","K0","K2","A","C","R","P"],
      "titleFontSize": 13, "titleFontWeight": "normal", "titleColor": "black", "titlePadding": 5, "titleFont": "Liberation Sans",
      "labelFontSize": 13, "labelColor": "black", "labelFont": "Liberation Sans", "labelOffset": 4, "symbolType": "stroke", "symbolSize": 361, "symbolStrokeWidth": 2, "symbolOpacity": 0.6,
      "rowPadding": 1, "columnPadding": 26,
      "labelExpr": "datum.value == '_' ? '' : datum.value == 'B' ? '2νββ' : datum.value == 'K0' ? '⁴⁰K' : datum.value == 'A' ? '²²⁸Ac' : datum.value == 'R' ? '²¹²Bi and ²⁰⁸Tl' : datum.value == 'M' ? 'Model' : datum.value == 'G' ? 'alpha' : datum.value == 'K2' ? '⁴²K' : datum.value == 'C' ? '⁶⁰Co' : datum.value == 'P' ? '²¹⁴Bi and ²¹⁴Pb' : ''"}}
   }},
  {"data": {"name": "coax"}, "transform": [{"filter": "indexof(['B','K0','A','R','G','K2','C','P'], datum.s) >= 0"}],
   "mark": {"type": "line", "interpolate": "step-after", "strokeWidth": 1.3, "clip": true},
   "encoding": {"color": {"field": "s", "type": "nominal"}}},
  {"data": {"name": "coax"}, "transform": [{"filter": "datum.s == 'M'"}],
   "mark": {"type": "line", "interpolate": "step-after", "strokeWidth": 1.4, "clip": true},
   "encoding": {"color": {"field": "s", "type": "nominal"}}}
 ]
},
{
 "width": 832, "height": 190,
 "title": {"text": "enriched BEGe - 32.1 kg·yr", "orient": "top", "anchor": "start", "frame": "group", "offset": -27, "dx": 257, "fontSize": 13, "fontWeight": "normal", "color": "black", "font": "Liberation Sans"},
 "encoding": {
  "x": {"field": "e", "type": "quantitative", "scale": {"domain": [530, 5290], "nice": false, "zero": false},
   "axis": {"orient": "bottom", "title": "Energy (keV)", "titleAnchor": "end", "titlePadding": 0, "labelPadding": 11, "labelFlush": false, "labelOverlap": false, "values": [600,700,800,900,1000,1100,1200,1300,1400,1500,1600,1700,1800,1900,2000,2100,2200,2300,2400,2500,2600,2700,2800,2900,3000,3100,3200,3300,3400,3500,3600,3700,3800,3900,4000,4100,4200,4300,4400,4500,4600,4700,4800,4900,5000,5100,5200],
    "labelExpr": "datum.value % 500 == 0 ? '' + datum.value : ''",
    "tickSize": {"condition": {"test": "datum.value % 500 == 0", "value": -8}, "value": -4}}},
  "y": {"field": "v", "type": "quantitative", "scale": {"type": "log", "domain": [0.054, 5800], "nice": false},
   "axis": {"orient": "left", "title": "Counts / 10 keV", "titleAnchor": "end", "titlePadding": 4, "labelPadding": 20,
    "values": [0.06,0.07,0.08,0.09,0.1,0.2,0.3,0.4,0.5,0.6,0.7,0.8,0.9,1,2,3,4,5,6,7,8,9,10,20,30,40,50,60,70,80,90,100,200,300,400,500,600,700,800,900,1000,2000,3000,4000,5000],
    "labelExpr": "datum.value == 1000 ? '10³' : datum.value == 100 ? '10²' : datum.value == 10 ? '10' : datum.value == 1 ? '1' : (datum.value > 0.099 && datum.value < 0.101) ? '10⁻¹' : ''",
    "tickSize": {"condition": {"test": "datum.value == 0.1 || datum.value == 1 || datum.value == 10 || datum.value == 100 || datum.value == 1000", "value": -8}, "value": -4}}}
 },
 "layer": [
  {"data": {"name": "bege"}, "transform": [{"filter": "datum.s == 'D'"}],
   "mark": {"type": "area", "interpolate": "step-after", "color": "#ccffff", "clip": true},
   "encoding": {"y2": {"datum": 0.001}}},
  {"data": {"values": [{"e": 2014, "e2": 2064, "v": 610}]},
   "mark": {"type": "rect", "color": "#c9c9c9", "clip": true},
   "encoding": {"x2": {"field": "e2"}, "y2": {"datum": 0.001}}},
  {"data": {"name": "bege"}, "transform": [{"filter": "datum.s == 'D'"}],
   "mark": {"type": "line", "interpolate": "step-after", "strokeWidth": 1.3, "opacity": 0.9, "clip": true},
   "encoding": {
    "color": {"field": "s", "type": "nominal",
     "scale": {"domain": ["_","M","B","G","K0","K2","A","C","R","P","D"], "range": ["transparent","#000000","#1a1aff","#22cc22","#ff9933","#dd00dd","#33cccc","#a0522d","#dd1111","#aa44ff","#3399ff"]},
     "legend": null}}},
  {"data": {"name": "bege"}, "transform": [{"filter": "indexof(['B','K0','A','R','G','K2','C','P'], datum.s) >= 0"}],
   "mark": {"type": "line", "interpolate": "step-after", "strokeWidth": 1.3, "clip": true},
   "encoding": {"color": {"field": "s", "type": "nominal", "legend": null}}},
  {"data": {"name": "bege"}, "transform": [{"filter": "datum.s == 'M'"}],
   "mark": {"type": "line", "interpolate": "step-after", "strokeWidth": 1.4, "clip": true},
   "encoding": {"color": {"field": "s", "type": "nominal", "legend": null}}}
 ]
}
],
"spacing": 5,
"resolve": {"scale": {"color": "independent", "fill": "independent"}}
}
